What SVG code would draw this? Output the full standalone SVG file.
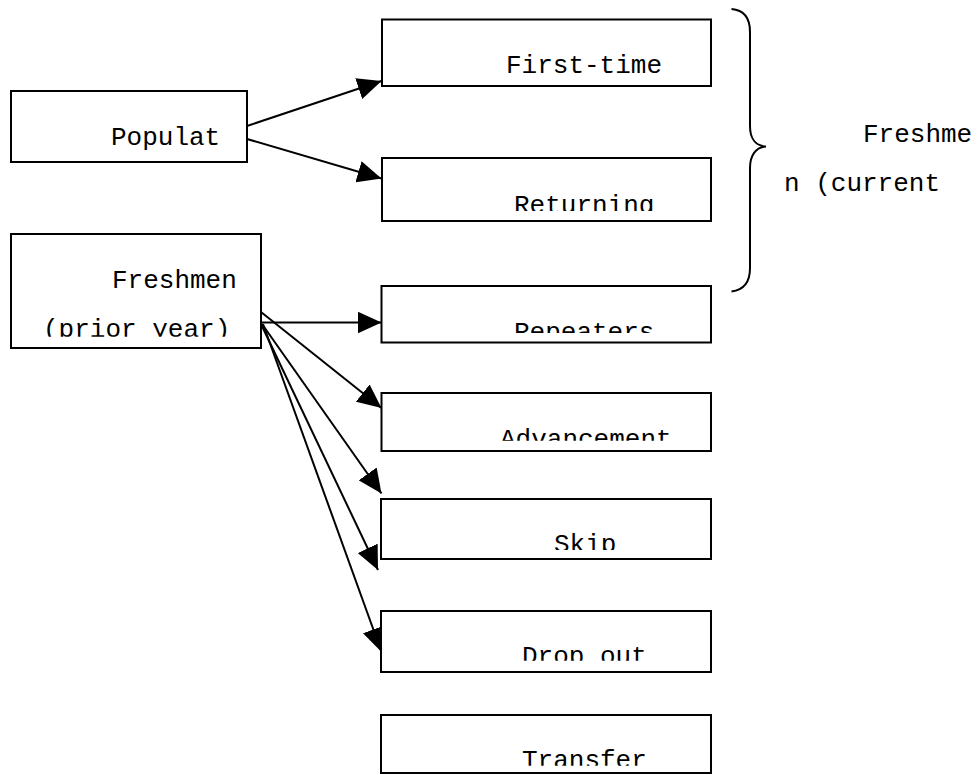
<svg xmlns="http://www.w3.org/2000/svg" width="979" height="775" viewBox="0 0 979 775">
<style>
.box{fill:#fff;stroke:#000;stroke-width:2}
.t{font-family:"Courier New","Nimbus Mono PS","FreeMono","Liberation Mono",monospace;font-size:26px;fill:#000}
.c{fill:none;stroke:#000;stroke-width:2}
</style>
<defs>
<marker id="ah" markerUnits="userSpaceOnUse" markerWidth="24" markerHeight="22" refX="24" refY="11" orient="auto">
<path d="M0,0 L24,11 L0,22 z" fill="#000"/>
</marker>
<clipPath id="cRet"><rect x="380" y="150" width="340" height="61"/></clipPath>
<clipPath id="cRep"><rect x="380" y="280" width="340" height="53"/></clipPath>
<clipPath id="cAdv"><rect x="380" y="390" width="340" height="50.7"/></clipPath>
<clipPath id="cSkip"><rect x="380" y="495" width="340" height="55"/></clipPath>
<clipPath id="cDrop"><rect x="380" y="605" width="340" height="55.7"/></clipPath>
<clipPath id="cTr"><rect x="380" y="710" width="340" height="55.7"/></clipPath>
<clipPath id="cPrior"><rect x="10" y="300" width="260" height="36.7"/></clipPath>
</defs>
<rect width="979" height="775" fill="#fff"/>
<g id="connectors">
<line class="c" x1="247" y1="126" x2="381.5" y2="81" marker-end="url(#ah)"/>
<line class="c" x1="247" y1="139" x2="381.5" y2="178.5" marker-end="url(#ah)"/>
<line class="c" x1="261" y1="322.5" x2="381.5" y2="322.5" marker-end="url(#ah)"/>
<line class="c" x1="261" y1="312" x2="381.5" y2="408" marker-end="url(#ah)"/>
<line class="c" x1="262" y1="324" x2="381.5" y2="493.5" marker-end="url(#ah)"/>
<line class="c" x1="261" y1="324" x2="378" y2="570" marker-end="url(#ah)"/>
<line class="c" x1="263" y1="324" x2="381.5" y2="652" marker-end="url(#ah)"/>
</g>
<g id="populat">
<rect class="box" x="11" y="91" width="236" height="71"/>
<text class="t" x="111" y="145">Populat</text>
</g>
<g id="freshmen-prior">
<rect class="box" x="11" y="234" width="250" height="114"/>
<text class="t" x="112" y="288">Freshmen</text>
<text class="t" x="43" y="337" clip-path="url(#cPrior)">(prior year)</text>
</g>
<g id="first-time">
<rect class="box" x="382" y="19.5" width="329" height="66.5"/>
<text class="t" x="506" y="73">First-time</text>
</g>
<g id="returning">
<rect class="box" x="382" y="158" width="329" height="63"/>
<text class="t" x="514" y="213" clip-path="url(#cRet)">Returning</text>
</g>
<g id="repeaters">
<rect class="box" x="381.5" y="286" width="329.5" height="56.5"/>
<text class="t" x="514" y="340" clip-path="url(#cRep)">Repeaters</text>
</g>
<g id="advancement">
<rect class="box" x="381.5" y="393" width="329.5" height="58"/>
<text class="t" x="500" y="446.5" clip-path="url(#cAdv)">Advancement</text>
</g>
<g id="skip">
<rect class="box" x="381" y="499" width="330" height="60"/>
<text class="t" x="554" y="552" clip-path="url(#cSkip)">Skip</text>
</g>
<g id="dropout">
<rect class="box" x="381" y="611" width="330" height="61"/>
<text class="t" x="522" y="664" clip-path="url(#cDrop)">Drop out</text>
</g>
<g id="transfer">
<rect class="box" x="381" y="715" width="330" height="58"/>
<text class="t" x="522" y="768" clip-path="url(#cTr)">Transfer</text>
</g>
<g id="brace-label">
<path class="c" d="M731.5,9 C744,10 750,18 750,32 L750,126 C750,139 756,146 766,146.5 C756,147 750,155 750,168 L750,268 C750,282 744,290 731.5,291.5"/>
<text class="t" x="863" y="142">Freshme</text>
<text class="t" x="784" y="190.5">n (current</text>
</g>
</svg>
